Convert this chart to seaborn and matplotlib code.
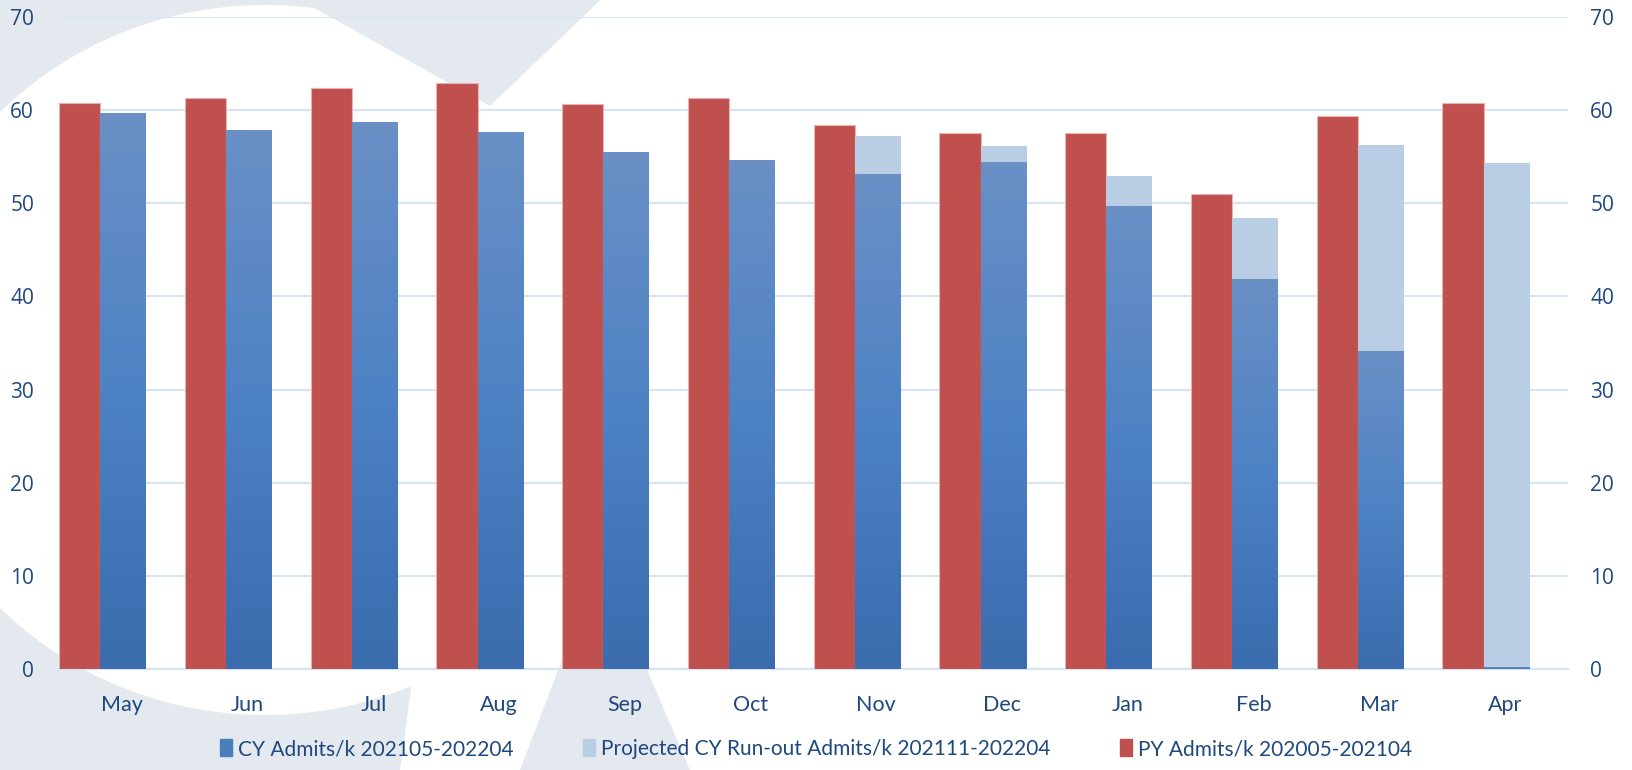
import numpy as np
import pandas as pd
import seaborn as sns
import matplotlib.pyplot as plt
from matplotlib.colors import LinearSegmentedColormap
from matplotlib.patches import Polygon, Ellipse, Patch

# Data
months = ['May', 'Jun', 'Jul', 'Aug', 'Sep', 'Oct', 'Nov', 'Dec', 'Jan', 'Feb', 'Mar', 'Apr']
py_admits = [60.8, 61.3, 62.4, 62.9, 60.7, 61.3, 58.4, 57.5, 57.5, 51.0, 59.4, 60.8]
cy_admits = [59.7, 57.9, 58.7, 57.6, 55.5, 54.6, 53.1, 54.4, 49.7, 41.9, 34.1, 0.2]
projected = [np.nan, np.nan, np.nan, np.nan, np.nan, np.nan, 57.2, 56.2, 52.9, 48.4, 56.3, 54.3]
series_names = ['CY Admits/k 202105-202204',
                'Projected CY Run-out Admits/k 202111-202204',
                'PY Admits/k 202005-202104']
y_ticks = [0, 10, 20, 30, 40, 50, 60, 70]

RED = '#C0504D'
LIGHT = '#B9CDE5'
BLUE = '#4A7EBB'
GRID = '#D9E4F3'
TXT = '#1F497D'
WM = '#E4E9EF'

sns.set_style('white')
plt.rcParams['font.family'] = ['Lato', 'DejaVu Sans']

fig = plt.figure(figsize=(16.32, 7.7), dpi=100)

# faint watermark behind the chart
bg = fig.add_axes([0, 0, 1, 1], zorder=-5)
bg.set_xlim(0, 1632)
bg.set_ylim(770, 0)
bg.axis('off')
bg.add_patch(Polygon([(0, 0), (600, 0), (490, 106), (400, 770), (0, 770)], color=WM, lw=0))
bg.add_patch(Polygon([(520, 770), (690, 770), (600, 560)], color=WM, lw=0))
bg.add_patch(Ellipse((265, 360), 740, 710, color='white', lw=0))
bg.add_patch(Polygon([(300, 0), (600, 0), (490, 106)], color=WM, lw=0))

ax = fig.add_axes([59 / 1632, 101 / 770, 1509 / 1632, 652 / 770])
ax.patch.set_alpha(0)

pos = np.arange(len(months))
sns.barplot(x=pos - 0.335, y=py_admits, native_scale=True, width=0.33, color=RED,
            orient='x', errorbar=None, saturation=1, ax=ax,
            edgecolor='#E8B4B3', linewidth=0.8, zorder=3)
sns.barplot(x=pos + 0.0125, y=projected, native_scale=True, width=0.365, color=LIGHT,
            orient='x', errorbar=None, saturation=1, ax=ax, linewidth=0, zorder=3)
n_before = len(ax.patches)
sns.barplot(x=pos + 0.0125, y=cy_admits, native_scale=True, width=0.365, color=BLUE,
            orient='x', errorbar=None, saturation=1, ax=ax, linewidth=0, zorder=4)

# vertical gradient on the CY bars
grad = LinearSegmentedColormap.from_list('cy', ['#3A6CAE', '#4D82C4', '#6A90C6'])
for bar in ax.patches[n_before:]:
    x0, w, h = bar.get_x(), bar.get_width(), bar.get_height()
    bar.set_facecolor('none')
    img = ax.imshow(np.linspace(0, 1, 256).reshape(-1, 1), cmap=grad, origin='lower',
                    extent=[x0, x0 + w, 0, h], aspect='auto', zorder=4)
    img.set_clip_path(bar)

ax.set_xlim(-0.5, len(months) - 0.5)
ax.set_ylim(0, 70)
ax.set_xticks(pos)
ax.set_xticklabels(months)
ax.set_yticks(y_ticks)
ax.set_yticklabels([str(t) for t in y_ticks], family='Open Sans')
ax.tick_params(axis='x', length=0, pad=19, labelsize=15.5, labelcolor=TXT)
ax.tick_params(axis='y', length=0, pad=18, labelsize=15, labelcolor=TXT)
ax.grid(axis='y', color=GRID, lw=1.6, zorder=0)
ax.set_axisbelow(True)
for s in ['left', 'right', 'top']:
    ax.spines[s].set_visible(False)
ax.spines['bottom'].set_color(GRID)
ax.spines['bottom'].set_linewidth(1.6)

ax2 = ax.twinx()
ax2.set_ylim(0, 70)
ax2.set_yticks(y_ticks)
ax2.set_yticklabels([str(t) for t in y_ticks], family='Open Sans')
ax2.tick_params(axis='y', length=0, pad=16, labelsize=15, labelcolor=TXT)
for s in ax2.spines.values():
    s.set_visible(False)

handles = [Patch(color=BLUE), Patch(color=LIGHT), Patch(color=RED)]
fig.legend(handles, series_names, loc='center', bbox_to_anchor=(0.5, 21 / 770), ncol=3,
           frameon=False, fontsize=15, labelcolor=TXT, handlelength=0.6, handleheight=0.9,
           handletextpad=0.3, columnspacing=3.3)

fig.savefig('out.png', dpi=100)
